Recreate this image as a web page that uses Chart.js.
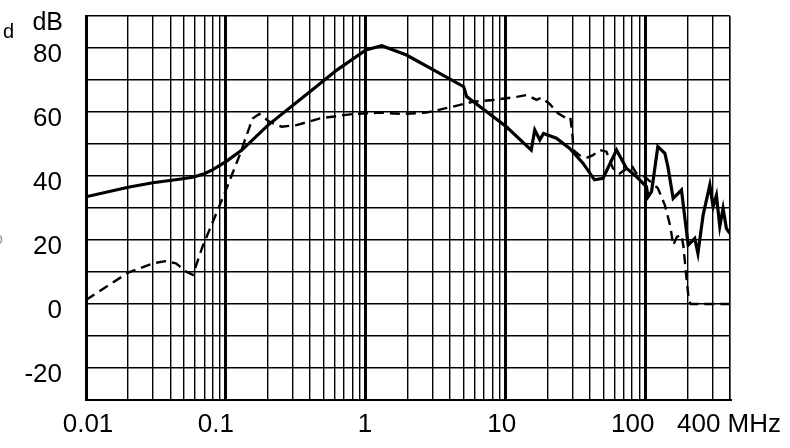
<!DOCTYPE html>
<html>
<head>
<meta charset="utf-8">
<script src="https://cdn.jsdelivr.net/npm/chart.js@4"></script>
<style>
  html, body { margin: 0; padding: 0; background: #fff; }
  canvas { display: block; }
</style>
</head>
<body>
<canvas id="chart" width="790" height="448"></canvas>
<script>
// frequency in MHz, level in dB
let freqSolid = [0.01, 0.02, 0.03, 0.045, 0.058, 0.07, 0.08, 0.1, 0.13, 0.2, 0.4, 0.62, 1.0, 1.3, 1.95, 3.2, 5.0, 5.25,
    10.1, 15.2, 16.1, 17.5, 18.6, 23, 28.6, 35.6, 43, 49.5, 61.8, 72.8, 85.7, 101, 104, 110, 122, 137, 144, 157, 180,
    201, 224, 236, 257, 287, 303, 320, 338, 357, 377, 400];
let dbSolid = [33.5, 36.5, 37.9, 38.9, 39.6, 40.7, 41.9, 44.5, 48.1, 55.9, 66.4, 73.1, 79.4, 80.7, 77.8, 72.6, 67.9, 64.8,
    55.4, 48.1, 54.4, 51.3, 53.3, 51.8, 48.6, 44, 38.8, 39.3, 48.1, 42.4, 39.8, 36.7, 33.5, 35.1, 49.2, 47.1, 42.9, 33, 35.6,
    18.4, 20.5, 15.8, 27.8, 37.2, 30.4, 34, 24.2, 29.9, 23.6, 22];

let freqDashed = [0.01, 0.02, 0.03, 0.037, 0.044, 0.052, 0.058, 0.068, 0.1, 0.124, 0.155, 0.173, 0.204, 0.25, 0.32, 0.47,
    0.81, 1.26, 1.84, 2.7, 4.2, 5.8, 8.1, 10.1, 12.2, 14.1, 16.6, 18, 20.6, 23.6, 27.2, 28.9, 30, 30.4, 34.7, 38.6, 42,
    46.9, 52.4, 58.3, 65.1, 70.7, 79, 85.7, 98, 122, 137, 150, 157, 167, 180, 186, 195, 203, 210, 400];
let dbDashed = [1.25, 9.8, 12.7, 13.4, 12.7, 10.1, 9.1, 17.9, 35.6, 46, 58, 59.4, 57, 55.4, 55.9, 58,
    59.4, 59.8, 59.4, 59.8, 61.7, 63.2, 63.75, 64.3, 64.8, 65.3, 63.8, 64.5, 62.5, 59.6, 58, 58.3, 52.3, 48.1, 46, 45.8, 46.5,
    48.1, 47.6, 42.4, 40.8, 41.9, 43.4, 40.8, 39.8, 36.2, 30.9, 24.2, 18.4, 21, 21.6, 17.9, 8.5, 1.25, 0, 0];

let xLabelValues = [0.01, 0.1, 1, 10, 100, 400];
let xLabelTexts = ['0.01', '0.1', '1', '10', '100', '400 MHz'];
let yLabelValues = [80, 60, 40, 20, 0, -20];

function toPoints(xs, ys) {
    let pts = [];
    for (let i = 0; i < xs.length; i++) {
        pts.push({ x: xs[i], y: ys[i] });
    }
    return pts;
}

function isDecade(v) {
    let l = Math.log10(v);
    return Math.abs(l - Math.round(l)) < 1e-9;
}

const labelPlugin = {
    id: 'labels',
    afterDraw: (chart) => {
        const ctx = chart.ctx;
        const xs = chart.scales.x;
        const ys = chart.scales.y;
        ctx.save();
        ctx.fillStyle = '#000';
        ctx.font = '26px "Liberation Sans", Arial, sans-serif';

        // y tick labels
        ctx.textAlign = 'right';
        ctx.textBaseline = 'alphabetic';
        for (let i = 0; i < yLabelValues.length; i++) {
            ctx.fillText(String(yLabelValues[i]), 62, ys.getPixelForValue(yLabelValues[i]) + 14);
        }

        // x tick labels (nudged like the original)
        let nudge = [2, -10, -1, -4, -13, -1];
        ctx.textAlign = 'center';
        for (let i = 0; i < xLabelValues.length; i++) {
            ctx.fillText(xLabelTexts[i], xs.getPixelForValue(xLabelValues[i]) + nudge[i], 432);
        }

        // unit
        ctx.font = '25px "Liberation Sans", Arial, sans-serif';
        ctx.textAlign = 'right';
        ctx.fillText('dB', 63, 30);

        // cropped leftovers at the left edge
        ctx.font = '20px "Liberation Sans", Arial, sans-serif';
        ctx.textAlign = 'left';
        ctx.fillText('d', 3, 38);
        ctx.fillStyle = '#999';
        ctx.font = '16px "Liberation Sans", Arial, sans-serif';
        ctx.fillText('o', -6, 244);
        ctx.restore();
    }
};

const config = {
    type: 'line',
    data: {
        datasets: [
            {
                label: 'solid',
                data: toPoints(freqSolid, dbSolid),
                borderColor: '#000',
                borderWidth: 3.2,
                pointRadius: 0,
                tension: 0,
                fill: false
            },
            {
                label: 'dashed',
                data: toPoints(freqDashed, dbDashed),
                borderColor: '#000',
                borderWidth: 2.4,
                borderDash: [10, 6],
                pointRadius: 0,
                tension: 0,
                fill: false
            }
        ]
    },
    options: {
        responsive: false,
        animation: false,
        layout: {
            padding: { left: 86, top: 16, right: 60, bottom: 48 }
        },
        plugins: {
            legend: { display: false },
            tooltip: { enabled: false }
        },
        scales: {
            x: {
                type: 'logarithmic',
                min: 0.01,
                max: 400,
                afterBuildTicks: (scale) => {
                    let ticks = [];
                    for (let d = 0.01; d <= 100; d *= 10) {
                        for (let m = 1; m <= 9; m++) {
                            let v = parseFloat((m * d).toPrecision(6));
                            if (v <= 400) ticks.push({ value: v });
                        }
                    }
                    ticks.push({ value: 400 });
                    scale.ticks = ticks;
                },
                ticks: { display: false },
                grid: {
                    color: '#000',
                    drawTicks: false,
                    lineWidth: (c) => (c.tick && isDecade(c.tick.value)) ? 3 : 1.4
                },
                border: { display: true, color: '#000', width: 2 }
            },
            y: {
                type: 'linear',
                min: -30,
                max: 90,
                ticks: { display: false, stepSize: 10 },
                grid: {
                    color: '#000',
                    drawTicks: false,
                    lineWidth: 1.4
                },
                border: { display: true, color: '#000', width: 3 }
            }
        }
    },
    plugins: [labelPlugin]
};

let chart = new Chart(document.getElementById('chart'), config);
</script>
</body>
</html>
